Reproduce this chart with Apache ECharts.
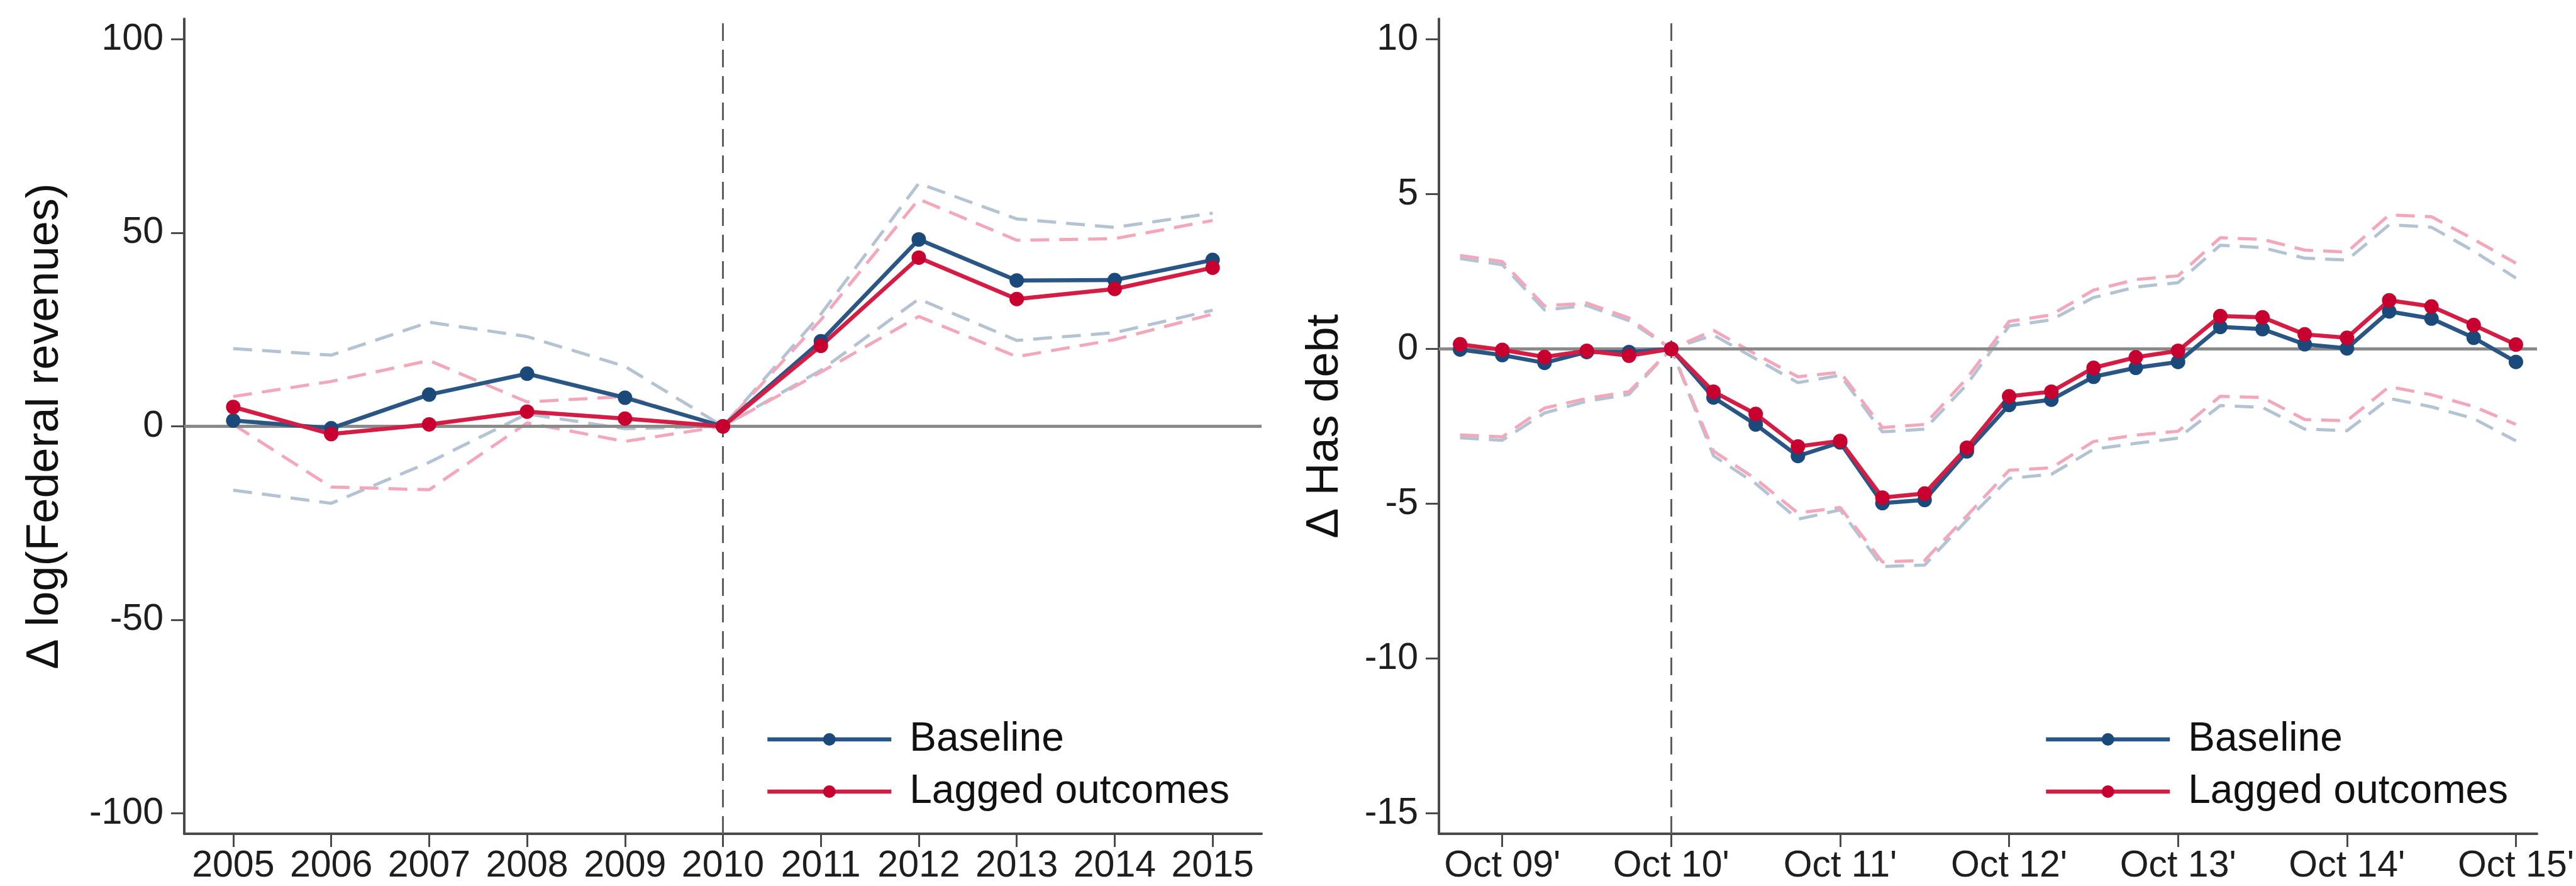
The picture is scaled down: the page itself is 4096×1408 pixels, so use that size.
<!DOCTYPE html>
<html>
<head>
<meta charset="utf-8">
<script src="https://cdn.jsdelivr.net/npm/echarts@6/dist/echarts.min.js"></script>
<style>
  html, body { margin: 0; padding: 0; background: #ffffff; }
  #chart { width: 4096px; height: 1408px; }
</style>
</head>
<body>
<div id="chart"></div>
<script>
// ---- Panel A: federal revenues, yearly event study ----
const years = [2005, 2006, 2007, 2008, 2009, 2010, 2011, 2012, 2013, 2014, 2015];
const revBaseline   = [1.5, -0.5, 8.2, 13.6, 7.4, 0, 22.0, 48.3, 37.7, 37.8, 43.0];
const revBaselineHi = [20.1, 18.4, 26.9, 23.2, 15.5, 0, 29.0, 62.8, 53.6, 51.4, 55.1];
const revBaselineLo = [-16.5, -19.9, -9.3, 3.2, -0.6, 0, 14.5, 32.9, 22.2, 24.2, 30.0];
const revLagged     = [5.0, -2.0, 0.5, 3.8, 2.0, 0, 20.8, 43.6, 32.9, 35.5, 41.0];
const revLaggedHi   = [7.7, 11.6, 17.0, 6.3, 7.7, 0, 27.5, 58.7, 48.1, 48.5, 53.2];
const revLaggedLo   = [0.5, -15.7, -16.4, 0.9, -3.9, 0, 14.0, 28.4, 18.0, 22.4, 29.0];
const revYTicks = [-100, -50, 0, 50, 100];

// ---- Panel B: has debt, quarterly event study (quarters relative to Oct 10') ----
const quarters = [-5, -4, -3, -2, -1, 0, 1, 2, 3, 4, 5, 6, 7, 8, 9, 10, 11, 12, 13, 14, 15, 16, 17, 18, 19, 20];
const debtBaseline   = [-0.02, -0.20, -0.45, -0.10, -0.10, 0, -1.57, -2.44, -3.46, -3.02, -4.98, -4.88, -3.31, -1.81, -1.64, -0.90, -0.61, -0.42, 0.71, 0.64, 0.15, 0.02, 1.21, 0.98, 0.36, -0.42];
const debtBaselineHi = [2.92, 2.72, 1.26, 1.40, 0.91, 0, 0.45, -0.32, -1.09, -0.85, -2.68, -2.59, -1.15, 0.74, 0.94, 1.66, 2.00, 2.14, 3.35, 3.27, 2.93, 2.87, 4.01, 3.93, 3.16, 2.29];
const debtBaselineLo = [-2.87, -2.95, -2.07, -1.69, -1.47, 0, -3.45, -4.35, -5.50, -5.20, -7.03, -6.98, -5.53, -4.18, -4.05, -3.24, -3.05, -2.88, -1.83, -1.89, -2.59, -2.64, -1.60, -1.87, -2.25, -2.97];
const debtLagged     = [0.15, -0.03, -0.26, -0.06, -0.22, 0, -1.38, -2.10, -3.15, -2.97, -4.80, -4.67, -3.19, -1.53, -1.38, -0.61, -0.27, -0.06, 1.06, 1.02, 0.47, 0.36, 1.57, 1.37, 0.77, 0.14];
const debtLaggedHi   = [3.02, 2.82, 1.39, 1.48, 1.00, 0, 0.60, -0.17, -0.90, -0.75, -2.54, -2.44, -0.95, 0.89, 1.10, 1.90, 2.24, 2.36, 3.59, 3.54, 3.19, 3.13, 4.33, 4.27, 3.54, 2.77];
const debtLaggedLo   = [-2.78, -2.84, -1.91, -1.60, -1.38, 0, -3.30, -4.20, -5.30, -5.12, -6.88, -6.83, -5.39, -3.92, -3.84, -2.99, -2.78, -2.66, -1.53, -1.57, -2.28, -2.32, -1.22, -1.48, -1.86, -2.44];
const debtXTicks = [-4, 0, 4, 8, 12, 16, 20];
const debtXLabels = ["Oct 09'", "Oct 10'", "Oct 11'", "Oct 12'", "Oct 13'", "Oct 14'", "Oct 15'"];
const debtYTicks = [-15, -10, -5, 0, 5, 10];

const FONT = "'Liberation Sans', Arial, Helvetica, sans-serif";
const BLUE_LINE = '#2a5686', BLUE_DOT = '#1b4a7a';
const RED_LINE = '#d41c44', RED_DOT = '#c8002f';
const BLUE_CI = '#b3c3d4', RED_CI = '#f2a8ba';

const pairs = (xs, ys) => xs.map((x, i) => [x, ys[i]]);

function axisCommon(ticks) {
  return {
    axisLine: { show: true, onZero: false, lineStyle: { color: '#4a4a4a', width: 4 } },
    axisTick: { show: true, length: 21, customValues: ticks, lineStyle: { color: '#4a4a4a', width: 3 } },
    splitLine: { show: false }
  };
}

function ciSeries(name, xi, xs, ys, color, extra) {
  return Object.assign({
    name: name, type: 'line', xAxisIndex: xi, yAxisIndex: xi,
    data: pairs(xs, ys), symbol: 'none', silent: true, z: 2,
    lineStyle: { color: color, width: 5, type: [30, 16] }
  }, extra || {});
}

function mainSeries(name, xi, xs, ys, lineColor, dotColor) {
  return {
    name: name, type: 'line', xAxisIndex: xi, yAxisIndex: xi,
    data: pairs(xs, ys), symbol: 'circle', symbolSize: 23, z: 5,
    lineStyle: { color: lineColor, width: 6.5 },
    itemStyle: { color: dotColor }
  };
}

function refLines(eventX) {
  return {
    silent: true, symbol: ['none', 'none'], label: { show: false },
    data: [
      { yAxis: 0, lineStyle: { color: '#8a8a8a', width: 5, type: 'solid' } },
      { xAxis: eventX, lineStyle: { color: '#5e5e5e', width: 3, type: [28, 14] } }
    ]
  };
}

function legendAt(left) {
  return {
    data: ['Baseline', 'Lagged outcomes'], orient: 'vertical',
    left: left, top: 1138, itemWidth: 197, itemHeight: 25, itemGap: 19,
    selectedMode: false,
    lineStyle: { width: 6.5 },
    textStyle: { fontSize: 64, lineHeight: 64, color: '#111111', fontFamily: FONT, padding: [0, 0, 0, 24] }
  };
}

const option = {
  backgroundColor: '#ffffff',
  animation: false,
  textStyle: { fontFamily: FONT },
  grid: [
    { left: 293, top: 30, width: 1713, height: 1295 },
    { left: 2288, top: 30, width: 1752, height: 1295 }
  ],
  xAxis: [
    Object.assign(axisCommon(years), {
      type: 'value', gridIndex: 0, min: 2004.5, max: 2015.5,
      axisLabel: { customValues: years, margin: 22, fontSize: 59, color: '#1e1e1e', fontFamily: FONT,
                   formatter: v => String(v) }
    }),
    Object.assign(axisCommon(debtXTicks), {
      type: 'value', gridIndex: 1, min: -5.5, max: 20.5,
      axisLabel: { customValues: debtXTicks, margin: 22, fontSize: 59, color: '#1e1e1e', fontFamily: FONT,
                   formatter: v => debtXLabels[debtXTicks.indexOf(v)] }
    })
  ],
  yAxis: [
    Object.assign(axisCommon(revYTicks), {
      type: 'value', gridIndex: 0, min: -105.3, max: 105.3,
      name: 'Δ log(Federal revenues)', nameLocation: 'middle', nameGap: 185,
      nameTextStyle: { fontSize: 72, color: '#111111', fontFamily: FONT },
      axisLabel: { customValues: revYTicks, margin: 33, fontSize: 59, color: '#1e1e1e', fontFamily: FONT,
                   formatter: v => String(v) }
    }),
    Object.assign(axisCommon(debtYTicks), {
      type: 'value', gridIndex: 1, min: -15.66, max: 10.66,
      name: 'Δ Has debt', nameLocation: 'middle', nameGap: 145,
      nameTextStyle: { fontSize: 72, color: '#111111', fontFamily: FONT },
      axisLabel: { customValues: debtYTicks, margin: 33, fontSize: 59, color: '#1e1e1e', fontFamily: FONT,
                   formatter: v => String(v) }
    })
  ],
  legend: [legendAt(1212), legendAt(3245)],
  series: [
    // federal revenues panel
    ciSeries('Baseline upper', 0, years, revBaselineHi, BLUE_CI, { markLine: refLines(2010), z: 1 }),
    ciSeries('Baseline lower', 0, years, revBaselineLo, BLUE_CI),
    ciSeries('Lagged upper', 0, years, revLaggedHi, RED_CI),
    ciSeries('Lagged lower', 0, years, revLaggedLo, RED_CI),
    mainSeries('Baseline', 0, years, revBaseline, BLUE_LINE, BLUE_DOT),
    mainSeries('Lagged outcomes', 0, years, revLagged, RED_LINE, RED_DOT),
    // has-debt panel
    ciSeries('Baseline upper', 1, quarters, debtBaselineHi, BLUE_CI, { markLine: refLines(0), z: 1 }),
    ciSeries('Baseline lower', 1, quarters, debtBaselineLo, BLUE_CI),
    ciSeries('Lagged upper', 1, quarters, debtLaggedHi, RED_CI),
    ciSeries('Lagged lower', 1, quarters, debtLaggedLo, RED_CI),
    mainSeries('Baseline', 1, quarters, debtBaseline, BLUE_LINE, BLUE_DOT),
    mainSeries('Lagged outcomes', 1, quarters, debtLagged, RED_LINE, RED_DOT)
  ]
};

const chart = echarts.init(document.getElementById('chart'), null, { renderer: 'canvas' });
chart.setOption(option);
</script>
</body>
</html>
